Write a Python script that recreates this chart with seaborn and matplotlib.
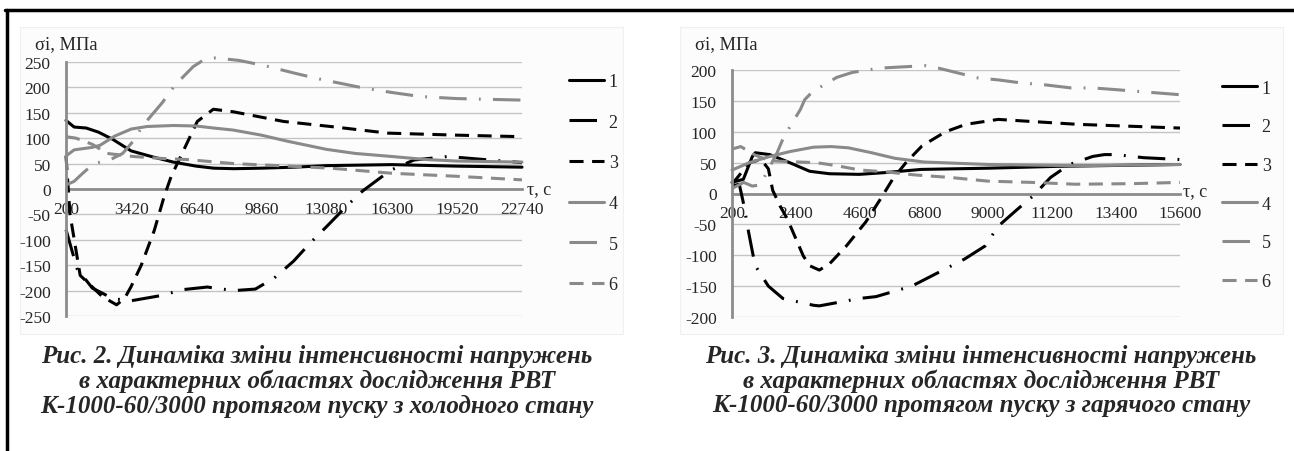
import matplotlib
matplotlib.use('Agg')
import matplotlib.pyplot as plt
import seaborn as sns
import pandas as pd
from matplotlib.lines import Line2D

# ---------------------------------------------------------------------------
# Data (time, s  ->  stress intensity, MPa)
# ---------------------------------------------------------------------------

# Fig. 2 - start from cold state
cold_t1 = [200, 600, 1200, 1800, 2500, 3420, 4500, 5500, 6640, 7500, 8500, 9860, 11500, 13080, 16300, 19520, 22740]
cold_s1 = [135, 122, 120, 112, 98, 75, 63, 53, 45, 41, 40, 41, 43, 46, 48, 45, 43]

cold_t2 = [200, 750, 1500, 2530, 3420, 4860, 6000, 7180, 8500, 9560, 10500, 11450, 12300, 13130, 14110,
           14860, 15500, 16250, 17390, 19070, 20560, 22740]
cold_s2 = [-80, -157, -195, -216, -220, -210, -198, -193, -200, -197, -175, -142, -105, -72, -32,
           -4, 15, 37, 57, 64, 59, 52]

cold_t3 = [200, 400, 900, 2000, 2700, 3100, 3420, 3920, 4560, 5050, 5400, 5700, 6690, 7480, 8470,
           10950, 13280, 16100, 19520, 22740]
cold_s3 = [65, -50, -170, -212, -228, -215, -192, -150, -82, -15, 25, 50, 133, 157, 152,
           133, 123, 110, 106, 103]

cold_t4 = [200, 600, 1500, 1880, 2600, 3420, 4200, 5500, 6640, 7500, 8470, 9860, 11150, 13080, 14500,
           16300, 18000, 19520, 22740]
cold_s4 = [65, 77, 82, 86, 104, 118, 123, 125, 124, 120, 116, 106, 94, 78, 70,
           64, 58, 55, 53]

cold_t5 = [200, 600, 1000, 1540, 2500, 3000, 3520, 4000, 4960, 5600, 6490, 7000, 7600, 8770, 10000,
           11500, 12780, 14760, 16300, 17730, 19520, 22740]
cold_s5 = [8, 15, 30, 49, 60, 70, 94, 125, 170, 205, 241, 254, 258, 253, 243,
           228, 216, 200, 190, 182, 178, 175]

cold_t6 = [200, 700, 1500, 2230, 3520, 5000, 6190, 8500, 10150, 13280, 16300, 19520, 22740]
cold_s6 = [103, 100, 88, 70, 64, 60, 58, 50, 47, 41, 31, 25, 18]

# Fig. 3 - start from hot state
hot_t1 = [200, 590, 900, 1000, 1500, 2180, 2870, 3550, 4580, 5500, 6700, 9020, 11400, 15600]
hot_s1 = [18, 23, 60, 66, 63, 50, 36, 32, 31, 34, 39, 41, 44, 47]

hot_t2 = [200, 450, 600, 760, 900, 1000, 1450, 1950, 3000, 3200, 4580, 5150, 6380, 7540, 8200,
          8900, 9350, 10000, 10550, 11150, 11800, 12600, 13000, 13400, 14350, 15600]
hot_s2 = [12, 15, -17, -60, -94, -117, -150, -170, -181, -182, -170, -167, -150, -122, -106,
          -85, -53, -26, -4, 26, 47, 60, 63, 63, 58, 55]

hot_t3 = [200, 800, 1200, 1450, 1600, 1850, 2100, 2650, 2870, 3200, 3550, 4130, 4800, 5370, 5720,
          6180, 6730, 7540, 8240, 9350, 10370, 12080, 15600]
hot_s3 = [15, 50, 55, 40, 5, -20, -41, -101, -117, -124, -114, -85, -46, -4, 23,
          50, 77, 100, 112, 120, 117, 112, 106]

hot_t4 = [200, 800, 1500, 2200, 3000, 3600, 4200, 5000, 5800, 6800, 9000, 12000, 15600]
hot_s4 = [38, 50, 60, 68, 75, 76, 74, 66, 57, 51, 47, 45, 47]

hot_t5 = [200, 600, 900, 1170, 1450, 1750, 1920, 2100, 2550, 2700, 2970, 3800, 4330, 5260, 6040,
          6850, 7300, 8670, 9350, 10150, 10950, 11850, 12600, 13450, 14240, 15600]
hot_s5 = [8, 18, 12, 14, 39, 66, 85, 101, 136, 152, 165, 188, 196, 203, 205,
          207, 203, 187, 184, 179, 176, 171, 171, 168, 165, 160]

hot_t6 = [200, 500, 1000, 1500, 2500, 3100, 3800, 4600, 5500, 6500, 7700, 9000, 10500, 12000, 14000, 15600]
hot_s6 = [72, 76, 62, 53, 51, 50, 45, 38, 35, 30, 26, 20, 18, 15, 16, 18]

curve_names = ['1', '2', '3', '4', '5', '6']

cold_xticks = [200, 3420, 6640, 9860, 13080, 16300, 19520, 22740]
cold_yticks = [-250, -200, -150, -100, -50, 0, 50, 100, 150, 200, 250]
hot_xticks = [200, 2400, 4600, 6800, 9000, 11200, 13400, 15600]
hot_yticks = [-200, -150, -100, -50, 0, 50, 100, 150, 200]

caption_cold = ['Рис. 2. Динаміка зміни інтенсивності напружень',
                'в характерних областях дослідження РВТ',
                'К-1000-60/3000 протягом пуску з холодного стану']
caption_hot = ['Рис. 3. Динаміка зміни інтенсивності напружень',
               'в характерних областях дослідження РВТ',
               'К-1000-60/3000 протягом пуску з гарячого стану']

# ---------------------------------------------------------------------------
# Styling
# ---------------------------------------------------------------------------
sns.set_style('white')
plt.rcParams['font.family'] = ['Liberation Serif', 'DejaVu Serif']

BLACK = '#000000'
GREY = '#8a8a8a'
palette = {'1': BLACK, '2': BLACK, '3': BLACK, '4': GREY, '5': GREY, '6': GREY}
dashes = {'1': '', '2': (9, 4, 0.6, 4), '3': (4.6, 2.8),
          '4': '', '5': (9, 4, 0.6, 4), '6': (4.6, 2.8)}
LW = 2.2
TICK_FS = 12.5


def to_long(ts, ss):
    frames = []
    for name, t, s in zip(curve_names, ts, ss):
        frames.append(pd.DataFrame({'t': t, 'sigma': s, 'curve': name}))
    return pd.concat(frames, ignore_index=True)


def draw_panel(ax, df, xticks, yticks, xpad):
    sns.lineplot(data=df, x='t', y='sigma', hue='curve', style='curve',
                 palette=palette, dashes=dashes, linewidth=LW, sort=False,
                 estimator=None, legend=False, ax=ax)
    for ln in ax.lines:
        ln.set_clip_on(False)
    ax.set_xlim(xticks[0], xticks[-1])
    ax.set_ylim(yticks[0], yticks[-1])
    ax.set_xticks(xticks)
    ax.set_xticklabels([str(v) for v in xticks])
    ax.set_yticks(yticks)
    ax.set_yticklabels([str(v) for v in yticks])
    ax.set_xlabel('')
    ax.set_ylabel('')
    ax.grid(axis='y', color='#c4c4c4', linewidth=1.0)
    ax.grid(axis='x', visible=False)
    ax.set_axisbelow(True)
    for side in ['top', 'right']:
        ax.spines[side].set_visible(False)
    ax.spines['bottom'].set_position(('data', 0))
    ax.spines['bottom'].set_color('#8c8c8c')
    ax.spines['bottom'].set_linewidth(2.0)
    ax.spines['left'].set_color('#8c8c8c')
    ax.spines['left'].set_linewidth(2.0)
    ax.spines['bottom'].set_zorder(1)
    ax.tick_params(axis='x', direction='inout', length=5, width=1.5, color='#8c8c8c',
                   labelsize=TICK_FS, pad=xpad)
    ax.tick_params(axis='y', direction='out', length=4, width=1.5, color='#8c8c8c',
                   labelsize=TICK_FS, pad=7)
    ax.set_facecolor('none')


def make_legend(ax, anchor, spacing):
    handles = [Line2D([], [], color=palette[n], linewidth=LW,
                      dashes=dashes[n] if dashes[n] else (None, None))
               for n in curve_names]
    leg = ax.legend(handles, curve_names, loc='upper left', bbox_to_anchor=anchor,
                    bbox_transform=fig.transFigure, frameon=False, fontsize=13,
                    handlelength=1.95, handletextpad=0.25, labelspacing=spacing,
                    borderaxespad=0, borderpad=0)
    return leg


fig = plt.figure(figsize=(12.94, 4.52), dpi=100)
W, H = 1294.0, 452.0

# faint chart-area boxes
for x0, x1 in [(20, 623), (680, 1283)]:
    fig.add_artist(plt.Rectangle((x0 / W, 1 - 335 / H), (x1 - x0) / W, (335 - 28) / H,
                                 transform=fig.transFigure, facecolor='#fcfcfc',
                                 edgecolor='#f0f0f0', linewidth=0.8, zorder=0))

ax1 = fig.add_axes([66 / W, 1 - 317 / H, (522 - 66) / W, (317 - 63) / H])
ax2 = fig.add_axes([732 / W, 1 - 318 / H, (1180 - 732) / W, (318 - 71) / H])

df_cold = to_long([cold_t1, cold_t2, cold_t3, cold_t4, cold_t5, cold_t6],
                  [cold_s1, cold_s2, cold_s3, cold_s4, cold_s5, cold_s6])
df_hot = to_long([hot_t1, hot_t2, hot_t3, hot_t4, hot_t5, hot_t6],
                 [hot_s1, hot_s2, hot_s3, hot_s4, hot_s5, hot_s6])

draw_panel(ax1, df_cold, cold_xticks, cold_yticks, xpad=6)
draw_panel(ax2, df_hot, hot_xticks, hot_yticks, xpad=6)

make_legend(ax1, (569 / W, 1 - 74 / H), 1.31)
make_legend(ax2, (1222 / W, 1 - 80.5 / H), 1.2)

# axis captions
fig.text(35 / W, 1 - 45 / H, 'σi, МПа', fontsize=13.3, va='center', ha='left')
fig.text(695 / W, 1 - 45 / H, 'σi, МПа', fontsize=13.3, va='center', ha='left')
fig.text(527 / W, 1 - 190 / H, 'τ, с', fontsize=13, va='center', ha='left')
fig.text(1183 / W, 1 - 192 / H, 'τ, с', fontsize=13, va='center', ha='left')

# figure captions
for cx, lines in [(317, caption_cold), (981, caption_hot)]:
    for i, line in enumerate(lines):
        fig.text(cx / W, 1 - (357 + 24.5 * i) / H, line, fontsize=18,
                 fontweight='bold', fontstyle='italic', ha='center', va='center')

# page frame (top and left rule)
fig.add_artist(Line2D([5 / W, 1], [1 - 11 / H, 1 - 11 / H], transform=fig.transFigure,
                      color='black', linewidth=2.5))
fig.add_artist(Line2D([6.5 / W, 6.5 / W], [0, 1 - 11 / H], transform=fig.transFigure,
                      color='black', linewidth=2.5))

fig.savefig('out.png', dpi=100)
